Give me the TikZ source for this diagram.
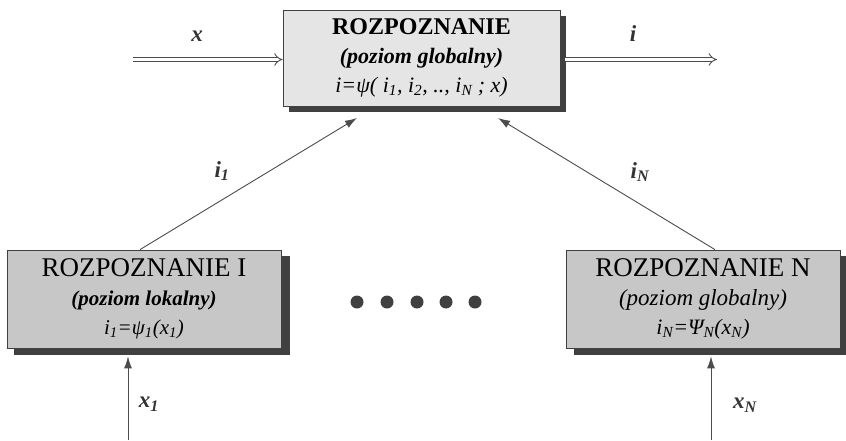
\documentclass[tikz,border=0pt]{standalone}
\usepackage{fontspec}
\setmainfont{Liberation Serif}
\usetikzlibrary{arrows.meta}
\newcommand\lo[1]{\textsubscript{#1}}
\newcommand\fs[1]{\fontsize{#1}{29}\selectfont}
\begin{document}
\begin{tikzpicture}[x=1pt,y=-1pt,
  box/.style={draw=black!75, line width=0.8pt, align=center, inner sep=0pt,
    font=\fs{20}},
  topbox/.style={box, fill=black!10, minimum width=277pt, minimum height=96pt},
  lowbox/.style={box, fill=black!22, minimum width=274pt, minimum height=98pt},
  shade/.style={fill=black!75},
  link/.style={draw=black!70, line width=0.9pt, -{Latex[length=12pt,width=8pt]}},
  bus/.style={draw=black!70, double=white, double distance=3.5pt, line width=0.9pt,
    -{Implies[length=10pt]}},
  lbl/.style={font=\fontsize{23}{25}\selectfont\bfseries\itshape, text=black!80},
  dot/.style={circle, fill=black!75, minimum size=13pt, inner sep=0pt}]
\useasboundingbox (0,0) rectangle (846,440);

% drop shadows
\fill[shade] (289,16) rectangle (566,112);
\fill[shade] (14,256) rectangle (290,355);
\fill[shade] (574,256) rectangle (846,355);

% global recognition block
\node[topbox] (top) at (421.5,58) {%
  {\fs{24}\bfseries ROZPOZNANIE}\\
  {\fs{22}\bfseries\itshape (poziom globalny)}\\
  {\fs{22}\itshape i=ψ( i\lo{1}, i\lo{2}, .., i\lo{N} ; x)}};

% local recognition blocks
\node[lowbox] (bl) at (144,299) {%
  {\fs{27}ROZPOZNANIE I}\\
  {\fs{21}\bfseries\itshape (poziom lokalny)}\\
  {\fs{21}\itshape i\lo{1}=ψ\lo{1}(x\lo{1})}};
\node[lowbox] (br) at (703,299) {%
  {\fs{27}ROZPOZNANIE N}\\
  {\fs{23}\itshape (poziom globalny)}\\
  {\fs{22}\itshape i\lo{N}=Ψ\lo{N}(x\lo{N})}};

% ellipsis between the local blocks
\foreach \k/\xx in {1/357,2/387,3/417,4/446,5/475}
  \node[dot] (d\k) at (\xx,302) {};

% input and output of the global block
\coordinate (xin) at (133,59.5);
\coordinate (iout) at (717,59.5);
\draw[bus] (xin) -- (top.west |- xin);
\draw[bus] ([xshift=5pt]top.east |- iout) -- (iout);
\node[lbl] (xl) at (197,36) {x};
\node[lbl] (il) at (633,34) {i};

% local results sent upward
\coordinate (t1) at (357,118);
\coordinate (tn) at (498,118);
\draw[link] ([xshift=-4pt]bl.north) -- (t1);
\draw[link] ([xshift=12pt]br.north) -- (tn);
\node[lbl] (i1l) at (222,171) {i\lo{1}};
\node[lbl] (inl) at (640,172) {i\lo{N}};

% local inputs
\coordinate (x1in) at (128,440);
\coordinate (xnin) at (711,440);
\draw[link] (x1in) -- ([yshift=-8pt]x1in |- bl.south);
\draw[link] (xnin) -- ([yshift=-8pt]xnin |- br.south);
\node[lbl] (x1l) at (149,404) {x\lo{1}};
\node[lbl] (xnl) at (745,405) {x\lo{N}};
\end{tikzpicture}
\end{document}
